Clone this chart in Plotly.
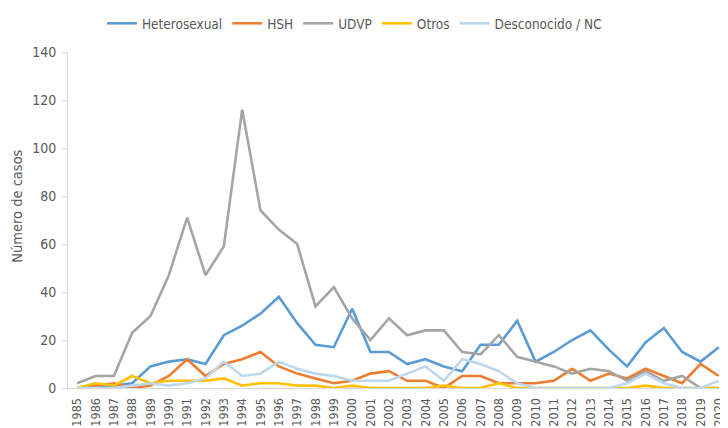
import plotly.graph_objects as go

years = list(range(1985, 2021))

heterosexual = [0, 0, 1, 2, 9, 11, 12, 10, 22, 26, 31, 38, 27, 18, 17, 33, 15, 15, 10, 12,
                9, 7, 18, 18, 28, 11, 15, 20, 24, 16, 9, 19, 25, 15, 11, 17]
hsh = [0, 1, 2, 0, 1, 5, 12, 5, 10, 12, 15, 9, 6, 4, 2, 3, 6, 7, 3, 3,
       0, 5, 5, 2, 2, 2, 3, 8, 3, 6, 4, 8, 5, 2, 10, 5]
udvp = [2, 5, 5, 23, 30, 47, 71, 47, 59, 116, 74, 66, 60, 34, 42, 29, 20, 29, 22, 24,
        24, 15, 14, 22, 13, 11, 9, 6, 8, 7, 3, 7, 3, 5, 0, 0]
otros = [0, 2, 1, 5, 2, 3, 3, 3, 4, 1, 2, 2, 1, 1, 0, 1, 0, 0, 0, 0,
         1, 0, 0, 2, 0, 0, 0, 0, 0, 0, 0, 1, 0, 0, 0, 0]
desconocido = [0, 0, 0, 1, 2, 1, 2, 4, 11, 5, 6, 11, 8, 6, 5, 3, 3, 3, 6, 9,
               3, 12, 10, 7, 2, 0, 0, 0, 0, 0, 2, 6, 2, 0, 0, 3]

series_names = ["Heterosexual", "HSH", "UDVP", "Otros", "Desconocido / NC"]
series_values = [heterosexual, hsh, udvp, otros, desconocido]
colors = ["#5B9BD5", "#ED7D31", "#A5A5A5", "#FFC000", "#BDD7EE"]

y_ticks = [0, 20, 40, 60, 80, 100, 120, 140]
y_title = "Número de casos"

fig = go.Figure()
for name, vals, col in zip(series_names, series_values, colors):
    fig.add_trace(go.Scatter(x=years, y=vals, name=name, mode="lines",
                             line=dict(color=col, width=2.6)))

font_family = "DejaVu Sans Condensed, Liberation Sans, sans-serif"
txt = "#595959"
fig.update_layout(
    width=720, height=420,
    margin=dict(l=60, r=0, t=39, b=40),
    paper_bgcolor="white", plot_bgcolor="white",
    font=dict(family=font_family, size=14, color=txt),
    legend=dict(orientation="h", x=0.434, xanchor="center", y=1.085, yanchor="middle",
                font=dict(size=13.5, color=txt), itemwidth=30,
                traceorder="normal", bgcolor="rgba(0,0,0,0)"),
    showlegend=True,
)
fig.add_annotation(text=y_title, textangle=-90, xref="paper", yref="paper",
                   x=-0.0773, y=0.5425, xanchor="center", yanchor="middle",
                   showarrow=False, font=dict(size=14.5, color=txt))
fig.update_xaxes(range=[1984.5, 2020.5], tickmode="array", tickvals=years,
                 ticktext=[str(y) for y in years], tickangle=-90,
                 showgrid=False, zeroline=False, showline=True, linecolor="#D9D9D9",
                 linewidth=1, ticks="", ticklabelstandoff=4, automargin=False,
                 tickfont=dict(size=12.5, color=txt))
fig.update_yaxes(range=[0, 140], tickmode="array", tickvals=y_ticks,
                 showgrid=False, zeroline=False, showline=True, linecolor="#D9D9D9",
                 linewidth=1, ticks="outside", ticklen=5, tickcolor="#D9D9D9",
                 ticklabelstandoff=3, automargin=False,
                 tickfont=dict(size=14, color=txt))

fig.write_html("out.html")
